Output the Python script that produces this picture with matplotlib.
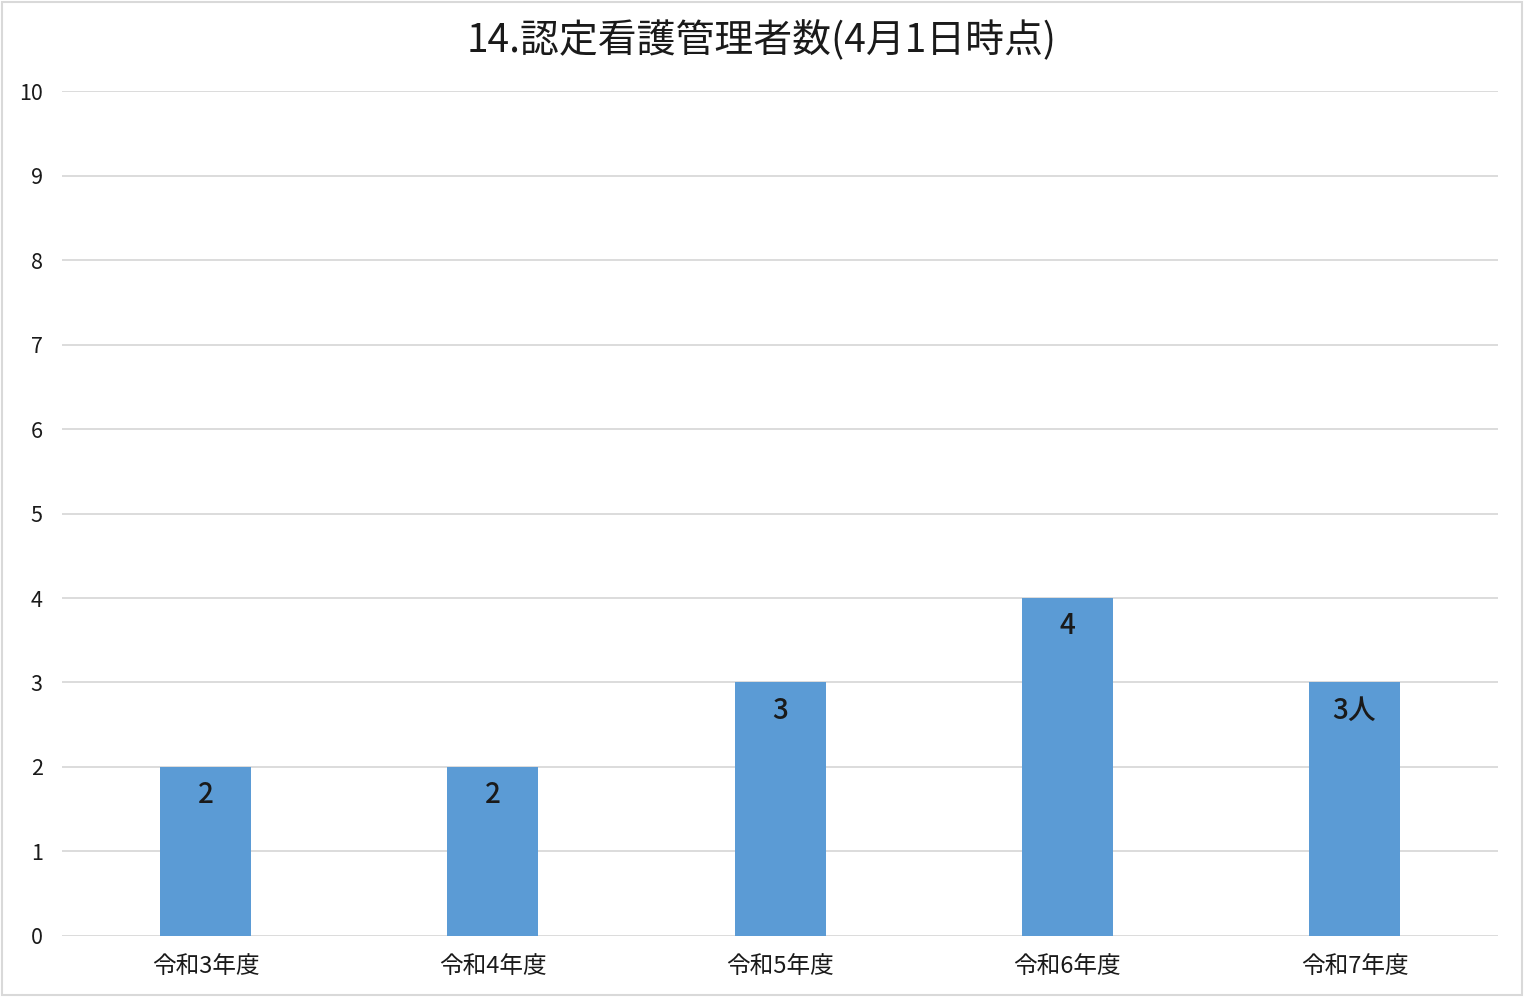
import matplotlib.pyplot as plt
from matplotlib.patches import Rectangle

plt.rcParams['font.family'] = ['Noto Sans CJK JP', 'DejaVu Sans']

# data
years = ["令和3年度", "令和4年度", "令和5年度", "令和6年度", "令和7年度"]
counts = [2, 2, 3, 4, 3]
count_labels = ["2", "2", "3", "4", "3人"]
y_ticks = list(range(0, 11))

fig = plt.figure(figsize=(15.24, 9.97), dpi=100)
ax = fig.add_axes([0.0407, 0.0612, 0.9423, 0.8475])

x = list(range(len(years)))
ax.bar(x, counts, width=0.317, color="#5b9bd5", zorder=3)

for xi, v, lab in zip(x, counts, count_labels):
    ax.text(xi, v - 0.33, lab, ha="center", va="center", fontsize=20,
            fontweight="medium", color="#1a1a1a", zorder=4)

ax.set_xlim(-0.5, len(years) - 0.5)
ax.set_ylim(0, 10)
ax.set_yticks(y_ticks)
ax.set_yticklabels([str(t) for t in y_ticks], fontsize=15.5, color="#1a1a1a")
ax.set_xticks(x)
ax.set_xticklabels(years, fontsize=17, color="#1a1a1a")
ax.tick_params(length=0)
ax.tick_params(axis="y", pad=14)
ax.tick_params(axis="x", pad=14)
ax.grid(axis="y", color="#d9d9d9", linewidth=1.3, zorder=0)
for s in ax.spines.values():
    s.set_visible(False)

fig.text(0.5, 0.959, "14.認定看護管理者数(4月1日時点)", ha="center", va="center",
         fontsize=28, color="#1a1a1a")

fig.patches.append(Rectangle((0.001, 0.002), 0.998, 0.996, transform=fig.transFigure,
                             fill=False, edgecolor="#d9d9d9", linewidth=1.5))

fig.savefig("out.png", dpi=100)
